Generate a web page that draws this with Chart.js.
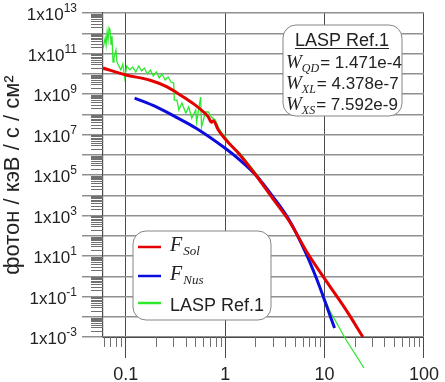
<!DOCTYPE html>
<html>
<head>
<meta charset="utf-8">
<script src="https://cdn.jsdelivr.net/npm/chart.js@4.4.0/dist/chart.umd.min.js"></script>
<style>
html, body { margin: 0; padding: 0; background: #fff; }
</style>
</head>
<body>
<canvas id="myChart" width="445" height="382"></canvas>
<script>
// energy (keV) and flux values
const solE = [0.059, 0.1, 0.173, 0.26, 0.367, 0.482, 0.606, 0.679, 0.727, 0.76, 0.853, 1.02, 1.41, 2.03, 2.99, 4.40, 6.63, 10.4, 16.5, 24.3];
const solFlux = [1.91e10, 8.71e9, 4.90e9, 2.24e9, 7.94e8, 3.24e8, 1.29e8, 7.24e7, 4.0e7, 4.8e7, 1.66e7, 5.37e6, 9.8e5, 1.0e5, 7.2e3, 537, 15.8, 0.58, 0.0214, 1.0e-3];

const nusE = [0.1228, 0.203, 0.320, 0.505, 1.0, 1.408, 2.03, 2.99, 4.40, 6.33, 8.33, 10.4, 12.6];
const nusFlux = [6.3e8, 2.3e8, 7.2e7, 2.1e7, 2.1e6, 5.5e5, 1.0e5, 9.1e3, 600, 17.8, 0.73, 0.038, 2.75e-3];

const laspE = [0.0592, 0.062, 0.0634, 0.0649, 0.0664, 0.0679, 0.0695, 0.0711, 0.0727, 0.0744, 0.0761, 0.0796, 0.0815, 0.0853, 0.0892, 0.0934, 0.0977, 0.102, 0.110, 0.117, 0.126, 0.135, 0.144, 0.154, 0.165, 0.177, 0.189, 0.203, 0.217, 0.232, 0.249, 0.267, 0.285, 0.303, 0.308, 0.327, 0.342, 0.367, 0.402, 0.430, 0.461, 0.505, 0.516, 0.566, 0.578, 0.634, 0.679, 0.727, 0.796, 0.852, 0.913, 1.023, 1.147, 1.408, 2.03, 2.99, 4.40, 6.63, 8.92, 11.2, 16.5, 24.9];
const laspFlux = [1.86e11, 5.89e11, 2.63e11, 1.15e12, 4.68e11, 1.82e12, 1.45e12, 2.63e11, 7.24e11, 3.80e10, 6.03e10, 1.48e11, 3.80e10, 2.40e10, 1.55e10, 3.02e10, 6.17e9, 2.40e10, 1.55e10, 2.14e10, 1.23e10, 2.40e10, 1.38e10, 1.91e10, 9.77e9, 1.55e10, 7.76e9, 1.23e10, 6.17e9, 9.77e9, 4.90e9, 6.92e9, 3.89e9, 3.47e9, 5.01e8, 5.01e8, 1.62e8, 3.63e8, 1.15e8, 2.29e8, 6.46e7, 1.62e8, 4.17e7, 7.08e8, 2.34e7, 1.29e8, 1.29e8, 7.24e7, 5.25e7, 2.34e7, 1.32e7, 6.76e6, 3.02e6, 1.23e6, 1.26e5, 9.1e3, 600, 14, 0.30, 0.021, 7.1e-4, 2.95e-5];

const seriesNames = ['F_Sol', 'F_Nus', 'LASP Ref.1'];
const xTickValues = [0.1, 1, 10, 100];
const xTickLabels = ['0.1', '1', '10', '100'];
const yDecades = [1e-3, 1e-2, 1e-1, 1, 1e1, 1e2, 1e3, 1e4, 1e5, 1e6, 1e7, 1e8, 1e9, 1e10, 1e11, 1e12, 1e13];
const yLabelPowers = [13, 11, 9, 7, 5, 3, 1, -1, -3];
const yTitle = 'фотон / кэВ / с / см²';

const noteTitle = 'LASP Ref.1';
const weightNames = ['QD', 'XL', 'XS'];
const weightValues = ['1.471e-4', '4.378e-7', '7.592e-9'];

function pts(xs, ys) { return xs.map((x, i) => ({ x: x, y: ys[i] })); }

const SANS = 'Arial, "Liberation Sans", sans-serif';
const SERIF = '"Liberation Serif", "Times New Roman", serif';

function roundBox(ctx, x, y, w, h, r) {
  ctx.beginPath();
  ctx.moveTo(x + r, y);
  ctx.arcTo(x + w, y, x + w, y + h, r);
  ctx.arcTo(x + w, y + h, x, y + h, r);
  ctx.arcTo(x, y + h, x, y, r);
  ctx.arcTo(x, y, x + w, y, r);
  ctx.closePath();
  ctx.fillStyle = '#fff';
  ctx.fill();
  ctx.strokeStyle = '#858585';
  ctx.lineWidth = 1;
  ctx.stroke();
}

function drawParts(ctx, x, y, parts) {
  ctx.textAlign = 'left';
  parts.forEach(p => {
    ctx.font = p.font;
    ctx.fillText(p.text, x, y + (p.dy || 0));
    x += ctx.measureText(p.text).width + (p.gap || 0);
  });
}

const deco = {
  id: 'deco',
  afterDraw(chart) {
    const ctx = chart.ctx, a = chart.chartArea;
    const xs = chart.scales.x, ys = chart.scales.y;
    ctx.save();
    // minor ticks
    ctx.strokeStyle = '#707070';
    ctx.lineWidth = 1;
    ctx.beginPath();
    for (let p = -2; p <= 1; p++) {
      for (let k = 2; k <= 9; k++) {
        const v = k * Math.pow(10, p);
        if (v < xs.min || v > xs.max) continue;
        const px = Math.round(xs.getPixelForValue(v)) + 0.5;
        ctx.moveTo(px, a.bottom);
        ctx.lineTo(px, a.bottom + 10);
      }
    }
    for (let p = -3; p < 13; p++) {
      for (let k = 2; k <= 9; k++) {
        const py = Math.round(ys.getPixelForValue(k * Math.pow(10, p))) + 0.5;
        ctx.moveTo(a.left - 12, py);
        ctx.lineTo(a.left, py);
      }
    }
    ctx.stroke();

    // y tick labels 1x10^n
    ctx.fillStyle = '#222';
    ctx.textBaseline = 'alphabetic';
    yLabelPowers.forEach(p => {
      const py = ys.getPixelForValue(Math.pow(10, p));
      ctx.textAlign = 'right';
      ctx.font = '12px ' + SANS;
      const ew = ctx.measureText(String(p)).width;
      ctx.fillText(String(p), 77, py - 1);
      ctx.font = '17px ' + SANS;
      ctx.fillText('1x10', 77 - ew, py + 7);
    });

    // note box
    roundBox(ctx, 283, 25, 119, 91, 13);
    ctx.fillStyle = '#222';
    ctx.font = '18px ' + SANS;
    ctx.textAlign = 'center';
    ctx.fillText(noteTitle, 342, 46);
    const tw = ctx.measureText(noteTitle).width;
    ctx.strokeStyle = '#222';
    ctx.lineWidth = 1.2;
    ctx.beginPath();
    ctx.moveTo(342 - tw / 2, 48.5);
    ctx.lineTo(342 + tw / 2, 48.5);
    ctx.stroke();
    weightNames.forEach((n, i) => {
      const y = 68 + i * 21;
      drawParts(ctx, 286, y, [
        { text: 'W', font: 'italic 19px ' + SERIF },
        { text: n, font: 'italic 12px ' + SERIF, dy: 4, gap: 1 },
        { text: '= ' + weightValues[i], font: '17px ' + SANS }
      ]);
    });

    // legend box
    roundBox(ctx, 133, 231, 138, 89, 13);
    const rows = [247, 276, 303];
    chart.data.datasets.forEach((ds, i) => {
      const ly = rows[i];
      ctx.strokeStyle = ds.borderColor;
      ctx.lineWidth = 2.5;
      ctx.beginPath();
      ctx.moveTo(138, ly);
      ctx.lineTo(161, ly);
      ctx.stroke();
      ctx.fillStyle = '#222';
      const parts = ds.label.split('_');
      if (parts.length > 1) {
        drawParts(ctx, 170, ly + 4, [
          { text: parts[0], font: 'italic 20px ' + SERIF, gap: 1 },
          { text: parts[1], font: 'italic 13px ' + SERIF, dy: 4 }
        ]);
      } else {
        drawParts(ctx, 170, ly + 8, [{ text: parts[0], font: '18px ' + SANS }]);
      }
    });
    ctx.restore();
  }
};

const ctx = document.getElementById('myChart').getContext('2d');
const chart = new Chart(ctx, {
  type: 'line',
  data: {
    datasets: [
      { label: seriesNames[0], data: pts(solE, solFlux), borderColor: '#e40000', borderWidth: 3, cubicInterpolationMode: 'monotone' },
      { label: seriesNames[1], data: pts(nusE, nusFlux), borderColor: '#0c0cdc', borderWidth: 3, cubicInterpolationMode: 'monotone' },
      { label: seriesNames[2], data: pts(laspE, laspFlux), borderColor: '#2ee82e', borderWidth: 1.3, tension: 0, clip: false }
    ]
  },
  options: {
    responsive: false,
    animation: false,
    devicePixelRatio: 1,
    layout: { padding: { top: 13, right: 16, left: 0, bottom: 0 } },
    elements: { point: { radius: 0 } },
    plugins: { legend: { display: false }, tooltip: { enabled: false } },
    scales: {
      x: {
        type: 'logarithmic',
        min: 0.059,
        max: 100,
        afterBuildTicks: s => { s.ticks = xTickValues.map(v => ({ value: v })); },
        afterFit: s => { s.height = 45; },
        ticks: {
          autoSkip: false,
          maxRotation: 0,
          padding: 6,
          color: '#222',
          font: { family: SANS, size: 18 },
          callback: (v, i) => xTickLabels[i]
        },
        grid: { color: '#4a4a4a', lineWidth: 1, tickLength: 21, tickColor: '#4a4a4a' },
        border: { display: true, color: '#4a4a4a', width: 1 }
      },
      y: {
        type: 'logarithmic',
        min: 1e-3,
        max: 1e13,
        afterBuildTicks: s => { s.ticks = yDecades.map(v => ({ value: v })); },
        afterFit: s => { s.width = 103; },
        ticks: { display: false },
        grid: { color: '#909090', lineWidth: 1.5, tickLength: 21, tickColor: '#909090' },
        border: { display: true, color: '#4a4a4a', width: 1.2 },
        title: {
          display: true,
          text: yTitle,
          color: '#222',
          font: { family: SANS, size: 22 },
          padding: { top: 0, bottom: 0 }
        }
      }
    }
  },
  plugins: [deco]
});
</script>
</body>
</html>
